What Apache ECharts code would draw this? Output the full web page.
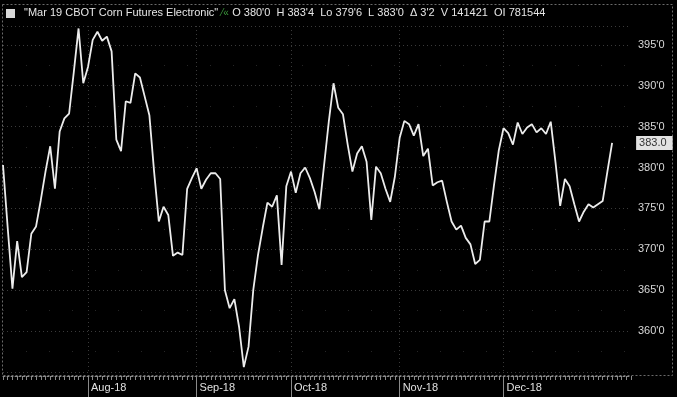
<!DOCTYPE html>
<html>
<head>
<meta charset="utf-8">
<script src="https://cdn.jsdelivr.net/npm/echarts@6/dist/echarts.min.js"></script>
<style>
  html, body { margin: 0; padding: 0; background: #000; }
  #chart { width: 677px; height: 397px; }
</style>
</head>
<body>
<div id="chart"></div>
<script>
// Trading-day slots (index along the time axis); a few empty slots after the last bar
const dayCount = 134;
const days = Array.from({ length: dayCount }, (_, i) => String(i));

// Daily settle values (cents/bu)
const prices = [
  380.3, 372.6, 365.2, 371.0, 366.6, 367.2, 371.9, 372.8, 376.0, 379.5, 382.6, 377.4, 384.4, 386.0, 386.6, 391.7, 397.0, 390.3, 392.3, 395.6, 396.6, 395.5, 396.0, 394.2, 383.4, 382.0, 388.1, 387.9, 391.5, 391.0, 388.7, 386.4, 379.5,
  373.4, 375.2, 374.2, 369.2, 369.6, 369.3, 377.4, 378.7, 379.9, 377.4, 378.5, 379.3, 379.3, 378.6, 365.0, 362.8, 363.9, 360.5, 355.6, 358.1, 365.0, 369.3, 372.6, 375.7, 375.2, 376.6, 368.1, 377.7, 379.5, 376.9, 379.3, 380.0,
  378.7, 377.0, 374.9, 380.3, 385.6, 390.3, 387.3, 386.5, 382.8, 379.5, 381.7, 382.6, 380.7, 373.6, 380.1, 379.3, 377.4, 375.8, 378.9, 383.6, 385.7, 385.3, 383.9, 385.3, 381.4, 382.3, 377.8, 378.2, 378.4, 375.8, 373.4, 372.4, 372.9, 371.4,
  370.6, 368.2, 368.7, 373.4, 373.4, 377.9, 382.1, 384.8, 384.2, 382.8, 385.5, 384.1, 384.9, 385.3, 384.3, 384.8, 384.1, 385.6, 380.7, 375.3, 378.6, 377.7, 375.5, 373.4, 374.6, 375.5, 375.1, 375.5, 375.9, 379.5, 383.0
];

// Month labels and the trading-day slot where each month starts
const monthLabels = ['Aug-18', 'Sep-18', 'Oct-18', 'Nov-18', 'Dec-18'];
const monthStarts = [18, 41, 61, 84, 106];

// Header texts
const headerName = '"Mar 19 CBOT Corn Futures Electronic"';
const headerStats = "O 380'0  H 383'4  Lo 379'6  L 383'0  \u0394 3'2  V 141421  OI 781544";

const isMonthStart = (i) => monthStarts.indexOf(i) >= 0;
const FONT = '"Liberation Sans", Arial, sans-serif';

const chart = echarts.init(document.getElementById('chart'), null, { renderer: 'canvas' });

chart.setOption({
  backgroundColor: '#000',
  animation: false,
  grid: { left: 3, right: 46, top: 26, height: 346, containLabel: false },
  graphic: [
    { type: 'rect', shape: { x: 2.5, y: 4.5, width: 670, height: 371 }, style: { fill: null, stroke: '#6a6a6a', lineWidth: 1, lineDash: [2, 2] }, silent: true, z: 0 },
    { type: 'rect', shape: { x: 6, y: 9, width: 9, height: 9 }, style: { fill: '#d8d8d8' }, z: 10 },
    {
      type: 'text', left: 24, top: 7, z: 10,
      style: {
        text: '{w|' + headerName + '} {g|\u2044\u00ab} {w|' + headerStats + '}',
        rich: {
          w: { fill: '#e6e6e6', fontSize: 11, fontFamily: FONT },
          g: { fill: '#3c9a3c', fontSize: 10, fontFamily: FONT }
        }
      }
    }
  ],
  xAxis: [
    {
      type: 'category', data: days, boundaryGap: false, position: 'bottom', offset: 4,
      axisLine: { show: true, lineStyle: { color: '#8a8a8a', width: 1, type: [2, 2] } },
      axisTick: { show: true, interval: 0, length: 4, lineStyle: { color: '#8a8a8a' } },
      axisLabel: { show: false },
      splitLine: { show: true, interval: (i) => isMonthStart(i), lineStyle: { color: '#3a3a3a', type: [1, 3] } }
    },
    {
      type: 'category', data: days, boundaryGap: false, position: 'bottom', offset: 4,
      axisLine: { show: false },
      axisTick: { show: true, interval: (i) => isMonthStart(i), length: 22, lineStyle: { color: '#8a8a8a' } },
      axisLabel: {
        show: true, interval: (i) => isMonthStart(i), align: 'left', margin: 6,
        padding: [0, 0, 0, 3], color: '#e0e0e0', fontSize: 11, fontFamily: FONT,
        formatter: (v, i) => { const k = monthStarts.indexOf(i); return k >= 0 ? monthLabels[k] : ''; }
      },
      splitLine: { show: false }
    }
  ],
  yAxis: {
    type: 'value', position: 'right', min: 355, max: 397.3, interval: 5,
    axisLine: { show: false }, axisTick: { show: false },
    axisLabel: {
      color: '#d8d8d8', fontSize: 11, fontFamily: FONT, margin: 7,
      showMinLabel: false, showMaxLabel: false,
      formatter: (v) => (v % 5 === 0 ? Math.round(v) + "'0" : '')
    },
    splitLine: { show: true, lineStyle: { color: '#3a3a3a', type: [1, 3] } },
    minorTick: { show: false, splitNumber: 2 },
    minorSplitLine: { show: true, lineStyle: { color: '#262626', type: [1, 22] } }
  },
  series: [{
    type: 'line', data: prices, xAxisIndex: 0, showSymbol: false, symbol: 'none',
    lineStyle: { color: '#ececec', width: 1.8 },
    endLabel: {
      show: true, offset: [16, 0], formatter: (p) => p.value.toFixed(1),
      color: '#333', backgroundColor: '#e2e2e2', padding: [2, 6, 1, 3],
      fontSize: 11, fontFamily: FONT
    },
    z: 5
  }]
});
</script>
</body>
</html>
